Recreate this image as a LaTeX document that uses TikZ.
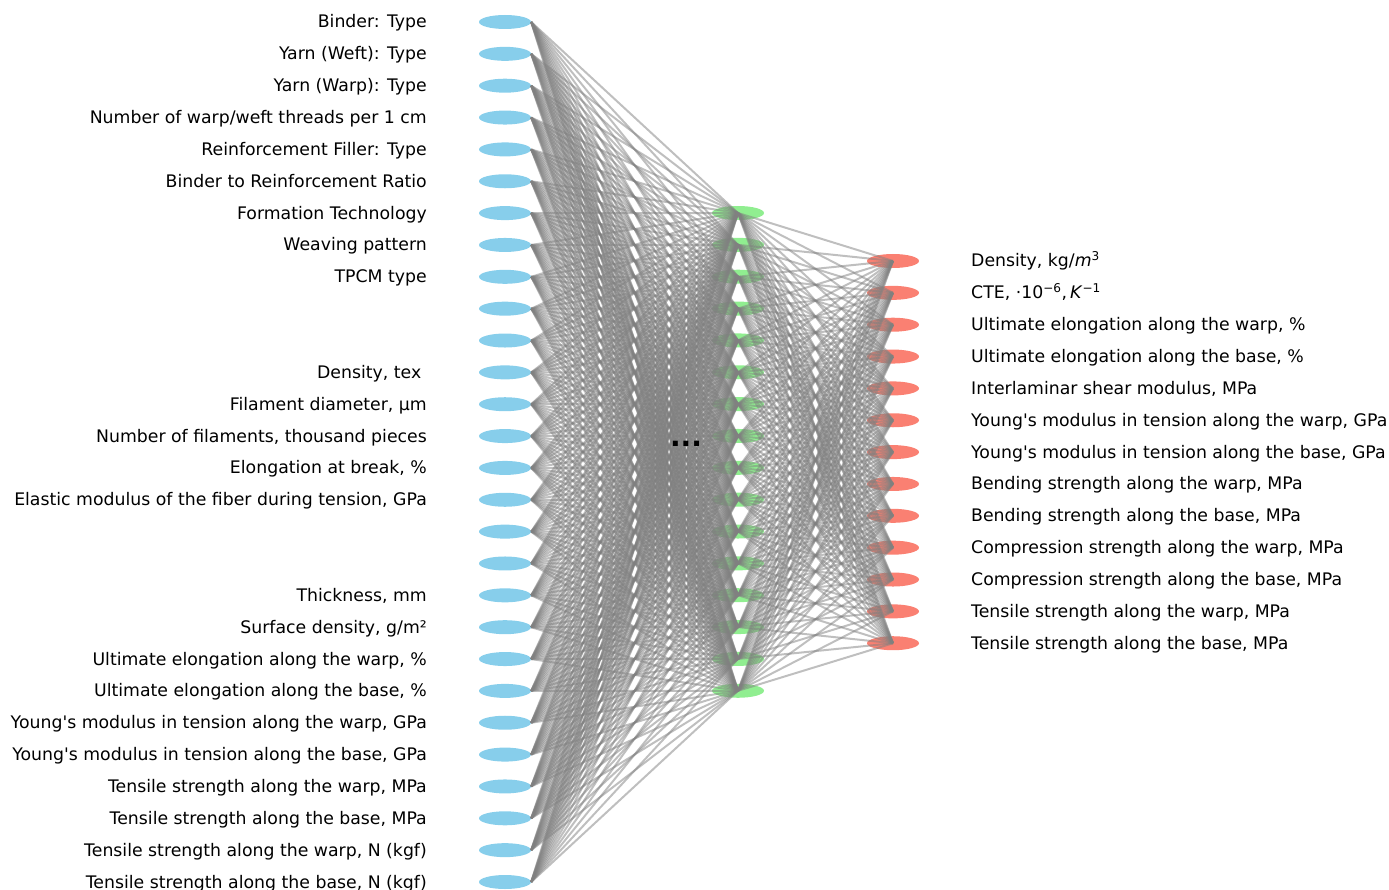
\documentclass[tikz,border=0pt]{standalone}
\usepackage{fontspec}
\setmainfont{DejaVu Sans}
\usetikzlibrary{shapes.geometric}
\definecolor{inblue}{RGB}{135,206,235}
\definecolor{hidgreen}{RGB}{144,238,144}
\definecolor{outred}{RGB}{250,128,114}
\begin{document}
\begin{tikzpicture}[x=1pt,y=-1pt,
  neuron/.style={ellipse,minimum width=52pt,minimum height=14pt,inner sep=0pt,draw=none},
  innode/.style={neuron,fill=inblue},
  hidnode/.style={neuron,fill=hidgreen},
  outnode/.style={neuron,fill=outred},
  lbl/.style={font=\fontsize{17.3}{20}\selectfont,inner sep=0pt,text height=13.1pt,text depth=4.1pt},
  inlbl/.style={lbl,anchor=east},
  outlbl/.style={lbl,anchor=west},
  edge/.style={draw=gray,opacity=0.5,line width=2pt}]
\useasboundingbox (0,0) rectangle (1389,890);
% input layer
\foreach \i/\t in {0/{Binder: Type},1/{Yarn (Weft): Type},2/{Yarn (Warp): Type},
  3/{Number of warp/weft threads per 1 cm},4/{Reinforcement Filler: Type},
  5/{Binder to Reinforcement Ratio},6/{Formation Technology},7/{Weaving pattern},
  8/{TPCM type},9/{},10/{},11/{Density, tex\hspace*{5.5pt}},12/{Filament diameter, µm},
  13/{Number of filaments, thousand pieces},14/{Elongation at break, \%},
  15/{Elastic modulus of the fiber during tension, GPa},16/{},17/{},
  18/{Thickness, mm},19/{Surface density, g/m²},
  20/{Ultimate elongation along the warp, \%},21/{Ultimate elongation along the base, \%},
  22/{Young\textquotesingle s modulus in tension along the warp, GPa},
  23/{Young\textquotesingle s modulus in tension along the base, GPa},
  24/{Tensile strength along the warp, MPa},25/{Tensile strength along the base, MPa},
  26/{Tensile strength along the warp, N (kgf)},27/{Tensile strength along the base, N (kgf)}}{
  \node[innode] (in\i) at (505,22+\i*31.852) {};
  \node[inlbl] (lin\i) at (427,23.5+\i*31.852) {\t};
}
% hidden layer
\foreach \j in {0,...,15}{
  \node[hidnode] (hid\j) at (738,213+\j*31.852) {};
}
% output layer
\foreach \k/\t in {0/{Density, kg/\textit{m}\textsuperscript{3}},
  1/{CTE, ·10\textsuperscript{−6},\,\textit{K}\textsuperscript{−1}},
  2/{Ultimate elongation along the warp, \%},3/{Ultimate elongation along the base, \%},
  4/{Interlaminar shear modulus, MPa},
  5/{Young\textquotesingle s modulus in tension along the warp, GPa},
  6/{Young\textquotesingle s modulus in tension along the base, GPa},
  7/{Bending strength along the warp, MPa},8/{Bending strength along the base, MPa},
  9/{Compression strength along the warp, MPa},10/{Compression strength along the base, MPa},
  11/{Tensile strength along the warp, MPa},12/{Tensile strength along the base, MPa}}{
  \node[outnode] (out\k) at (893,261+\k*31.852) {};
  \node[outlbl] (lout\k) at (971,262.5+\k*31.852) {\t};
}
% connections
\foreach \i in {0,...,27}{
  \foreach \j in {0,...,15}{
    \draw[edge] (in\i.east) -- (hid\j.center);
  }
}
\foreach \j in {0,...,15}{
  \foreach \k in {0,...,12}{
    \draw[edge] (hid\j.center) -- (out\k.center);
  }
}
\node[font=\fontsize{28}{30}\selectfont\bfseries,anchor=base,inner sep=0pt] (dots) at (686,446) {...};
\end{tikzpicture}
\end{document}
